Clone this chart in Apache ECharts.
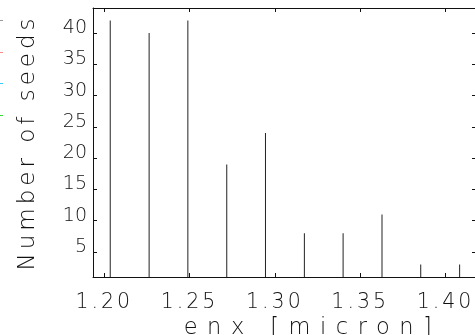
<!DOCTYPE html>
<html>
<head>
<meta charset="utf-8">
<script src="https://cdn.jsdelivr.net/npm/echarts@6/dist/echarts.min.js"></script>
<style>html,body{margin:0;padding:0;background:#fff}#c{width:475px;height:335px}</style>
</head>
<body>
<div id="c"></div>
<script>
// data
var enxValues = [1.2035, 1.2263, 1.2490, 1.2718, 1.2945, 1.3173, 1.3400, 1.3628, 1.3855, 1.4083];
var seedCounts = [42, 40, 42, 19, 24, 8, 8, 11, 3, 3];
var xTicks = [1.20, 1.25, 1.30, 1.35, 1.40];
var yTicks = [5, 10, 15, 20, 25, 30, 35, 40];
var xTitle = 'enx [micron]';
var yTitle = 'Number of seeds';

// wide letter spacing of the original stroke font, keyed by font size
(function () {
  var desc = Object.getOwnPropertyDescriptor(CanvasRenderingContext2D.prototype, 'font');
  if (!desc || !('letterSpacing' in CanvasRenderingContext2D.prototype)) return;
  var spacing = {'20.5px': '3px', '22.5px': '9.5px', '23px': '4px'};
  Object.defineProperty(CanvasRenderingContext2D.prototype, 'font', {
    configurable: true,
    get: function () { return desc.get.call(this); },
    set: function (v) {
      desc.set.call(this, v);
      var m = /(\d+(?:\.\d+)?px)/.exec(v);
      this.letterSpacing = (m && spacing[m[1]]) || '0px';
    }
  });
})();

var FONT = 'DejaVu Sans';
var FW = 200;
var INK = '#111';
var chart = echarts.init(document.getElementById('c'), null, {renderer: 'canvas'});
var xMin = 1.1934, xMax = 1.4179, yMin = 1, yMax = 44;

function xAxisDef(pos, labels) {
  return {
    type: 'value', position: pos, min: xMin, max: xMax,
    axisLine: {show: true, onZero: false, lineStyle: {color: INK, width: 1}},
    axisTick: {show: true, inside: true, length: 4, customValues: xTicks, lineStyle: {color: INK}},
    axisLabel: labels ? {show: true, customValues: xTicks, margin: 14, color: INK,
      fontFamily: FONT, fontWeight: FW, fontSize: 20.5, formatter: function (v) { return v.toFixed(2); }} : {show: false},
    splitLine: {show: false},
    name: labels ? xTitle : '', nameLocation: 'middle', nameGap: 35, nameMoveOverlap: false,
    nameTextStyle: {fontFamily: FONT, fontWeight: FW, fontSize: 22.5, color: INK, padding: [0, 0, 0, 56]}
  };
}
function yAxisDef(pos, labels) {
  return {
    type: 'value', position: pos, min: yMin, max: yMax,
    axisLine: {show: true, onZero: false, lineStyle: {color: INK, width: 1}},
    axisTick: {show: true, inside: true, length: 4, customValues: yTicks, lineStyle: {color: INK}},
    axisLabel: labels ? {show: true, customValues: yTicks, margin: 6, color: INK,
      fontFamily: FONT, fontWeight: FW, fontSize: 19, verticalAlign: 'bottom', lineHeight: 10} : {show: false},
    splitLine: {show: false},
    name: labels ? yTitle : '', nameLocation: 'middle', nameGap: 51, nameMoveOverlap: false,
    nameTextStyle: {fontFamily: FONT, fontWeight: FW, fontSize: 23, color: INK}
  };
}

chart.setOption({
  animation: false,
  backgroundColor: '#fff',
  grid: {left: 93, top: 8, bottom: 58, right: -1, containLabel: false, outerBoundsMode: 'none'},
  xAxis: [xAxisDef('bottom', true), xAxisDef('top', false)],
  yAxis: [yAxisDef('left', true), yAxisDef('right', false)],
  series: [{
    type: 'bar', xAxisIndex: 0, yAxisIndex: 0, barWidth: 1,
    itemStyle: {color: '#222'},
    data: enxValues.map(function (x, i) { return [x, seedCounts[i]]; })
  }],
  graphic: [
    {type: 'line', shape: {x1: 0, y1: 20.5, x2: 3, y2: 20.5}, style: {stroke: '#999', lineWidth: 1}},
    {type: 'line', shape: {x1: 0, y1: 52.5, x2: 3, y2: 52.5}, style: {stroke: '#f88', lineWidth: 1}},
    {type: 'line', shape: {x1: 0, y1: 83.5, x2: 3, y2: 83.5}, style: {stroke: '#3cf', lineWidth: 1}},
    {type: 'line', shape: {x1: 0, y1: 115.5, x2: 3, y2: 115.5}, style: {stroke: '#3d3', lineWidth: 1}}
  ]
});
</script>
</body>
</html>
